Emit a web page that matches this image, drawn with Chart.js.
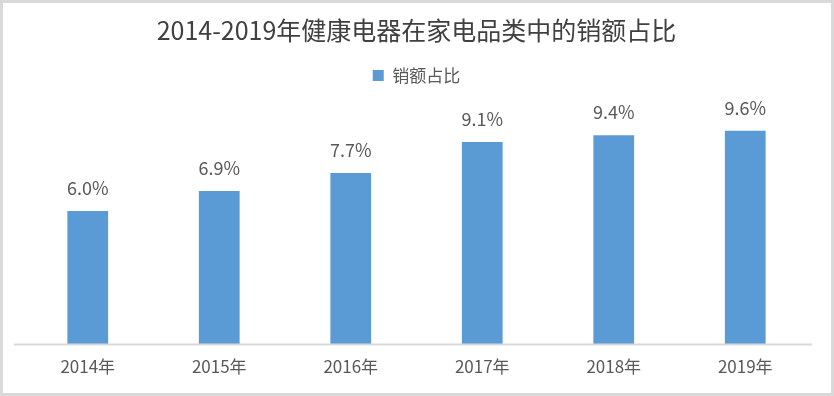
<!DOCTYPE html>
<html>
<head>
<meta charset="utf-8">
<script src="https://cdn.jsdelivr.net/npm/chart.js@4/dist/chart.umd.min.js"></script>
<style>
html,body{margin:0;padding:0;background:#fff;}
#wrap{width:834px;height:396px;position:relative;}
</style>
</head>
<body>
<div id="wrap"><canvas id="c" width="834" height="396"></canvas></div>
<script>
const categories = ['2014年','2015年','2016年','2017年','2018年','2019年'];
const shareValues = [6.0, 6.9, 7.7, 9.1, 9.4, 9.6];
const seriesName = '销额占比';
const titleText = '2014-2019年健康电器在家电品类中的销额占比';

const FONT = '"Noto Sans CJK SC", "Noto Sans", sans-serif';
const TEXT = '#595959';

const frame = {
  id: 'frame',
  beforeDraw(chart) {
    const ctx = chart.ctx;
    ctx.save();
    ctx.fillStyle = '#fff';
    ctx.fillRect(0, 0, chart.width, chart.height);
    ctx.restore();
  },
  afterDraw(chart) {
    const ctx = chart.ctx;
    ctx.save();
    ctx.strokeStyle = '#d9d9d9';
    ctx.lineWidth = 3;
    ctx.strokeRect(1.5, 1.5, chart.width - 3, chart.height - 3);
    ctx.restore();
  },
  afterDatasetsDraw(chart) {
    const ctx = chart.ctx;
    const a = chart.chartArea;
    ctx.save();
    ctx.strokeStyle = '#d9d9d9';
    ctx.lineWidth = 2;
    ctx.beginPath();
    ctx.moveTo(14, a.bottom);
    ctx.lineTo(812, a.bottom);
    ctx.stroke();
    ctx.fillStyle = TEXT;
    ctx.font = '18px ' + FONT;
    ctx.textAlign = 'center';
    ctx.textBaseline = 'middle';
    const meta = chart.getDatasetMeta(0);
    meta.data.forEach((bar, i) => {
      ctx.fillText(shareValues[i].toFixed(1) + '%', bar.x, bar.y - 23);
    });
    ctx.restore();
  }
};

new Chart(document.getElementById('c'), {
  type: 'bar',
  data: {
    labels: categories,
    datasets: [{
      label: seriesName,
      data: shareValues,
      backgroundColor: '#5B9BD5',
      borderWidth: 0,
      categoryPercentage: 1,
      barPercentage: 0.31
    }]
  },
  options: {
    responsive: false,
    animation: false,
    layout: { padding: { left: 22, right: 23, top: 9, bottom: 7 } },
    plugins: {
      title: {
        display: true,
        text: titleText,
        color: '#404040',
        font: { family: FONT, size: 25, weight: 'normal' },
        padding: { top: 6, bottom: 16 }
      },
      legend: {
        display: true,
        position: 'top',
        labels: {
          color: TEXT,
          font: { family: FONT, size: 17 },
          boxWidth: 11,
          boxHeight: 11,
          padding: 6
        }
      },
      tooltip: { enabled: false }
    },
    scales: {
      x: {
        grid: { display: false, drawTicks: false },
        border: { display: false },
        ticks: { color: TEXT, font: { family: FONT, size: 17 }, padding: 12 }
      },
      y: {
        display: false,
        min: 0,
        max: 11.25
      }
    }
  },
  plugins: [frame]
});
</script>
</body>
</html>
